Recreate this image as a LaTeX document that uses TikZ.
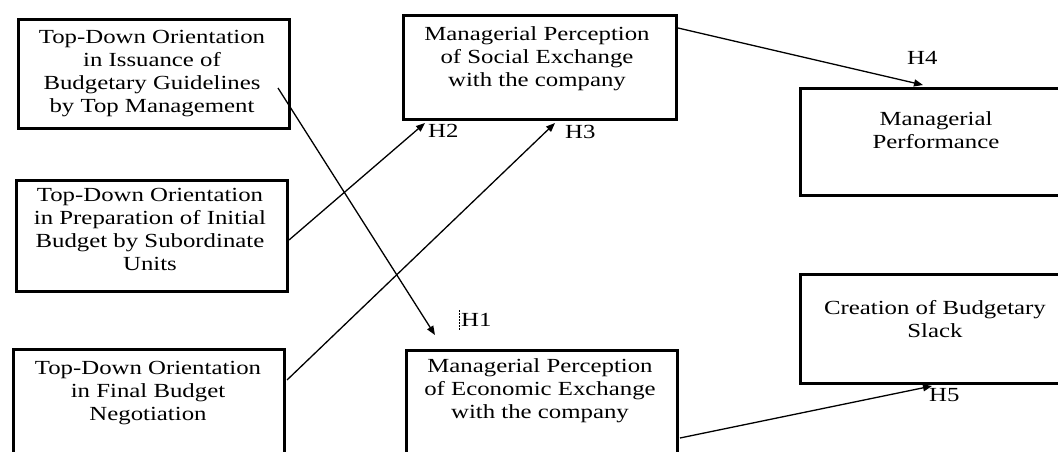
\documentclass[tikz,border=0pt]{standalone}
\usepackage{fontspec}
\setmainfont{Liberation Serif}[FakeStretch=1.24]
\usetikzlibrary{arrows.meta}
\begin{document}
\begin{tikzpicture}[x=1pt,y=-1pt,
  box/.style={draw=black, line width=2.6pt, rectangle, inner sep=0pt, anchor=north west},
  txt/.style={align=center, inner sep=0pt, anchor=north, font=\fontsize{20}{23}\selectfont},
  hlab/.style={inner sep=0pt, anchor=base west, font=\fontsize{20}{23}\selectfont},
  arr/.style={line width=1.3pt, -{Triangle[length=9pt,width=7pt]}}]
\useasboundingbox (0,0) rectangle (1058,452);
\clip (0,0) rectangle (1058,452);
\fill[white] (0,0) rectangle (1058,452);
% boxes
\node[box, minimum width=271pt, minimum height=109pt] (b1) at (17,18) {};
\node[box, minimum width=271pt, minimum height=111pt] (b2) at (15,179) {};
\node[box, minimum width=271pt, minimum height=140pt] (b3) at (12,348) {};
\node[box, minimum width=273pt, minimum height=104pt] (b4) at (402,14) {};
\node[box, minimum width=271pt, minimum height=140pt] (b5) at (405,349) {};
\node[box, minimum width=290pt, minimum height=107pt] (b6) at (799,87) {};
\node[box, minimum width=290pt, minimum height=109pt] (b7) at (799,273) {};
% texts
\node[txt] (t1) at (152,30.3) {Top-Down Orientation\\in Issuance of\\Budgetary Guidelines\\by Top Management};
\node[txt] (t2) at (150,188.3) {Top-Down Orientation\\in Preparation of Initial\\Budget by Subordinate\\Units};
\node[txt] (t3) at (148,361.3) {Top-Down Orientation\\in Final Budget\\Negotiation};
\node[txt] (t4) at (537,26.3) {Managerial Perception\\of Social Exchange\\with the company};
\node[txt] (t5) at (540,358.3) {Managerial Perception\\of Economic Exchange\\with the company};
\node[txt] (t6) at (936,111.3) {Managerial\\Performance};
\node[txt] (t7) at (935,300.3) {Creation of Budgetary\\Slack};
% connector end points
\coordinate (h1s) at (278,88);
\coordinate (h1e) at (435,335);
\coordinate (h2s) at (289,240);
\coordinate (h2e) at (425,123);
\coordinate (h3s) at (287,380);
\coordinate (h3e) at (555,123);
\coordinate (h4s) at (678,28);
\coordinate (h4e) at (923,85);
\coordinate (h5s) at (680,438);
\coordinate (h5e) at (932,386);
\draw[arr] (h1s) -- (h1e);
\draw[arr] (h2s) -- (h2e);
\draw[arr] (h3s) -- (h3e);
\draw[arr] (h4s) -- (h4e);
\draw[arr] (h5s) -- (h5e);
% labels
\node[hlab] (l1) at (461,326) {H1};
\node[hlab] (l2) at (428,137) {H2};
\node[hlab] (l3) at (565,138) {H3};
\node[hlab] (l4) at (907,65) {H4};
\node[hlab] (l5) at (929,401) {H5};
\coordinate (cur1) at (459,310);
\coordinate (cur2) at (459,330);
\draw[line width=0.8pt, dashed, dash pattern=on 2pt off 1pt] (cur1) -- (cur2);
\end{tikzpicture}
\end{document}
